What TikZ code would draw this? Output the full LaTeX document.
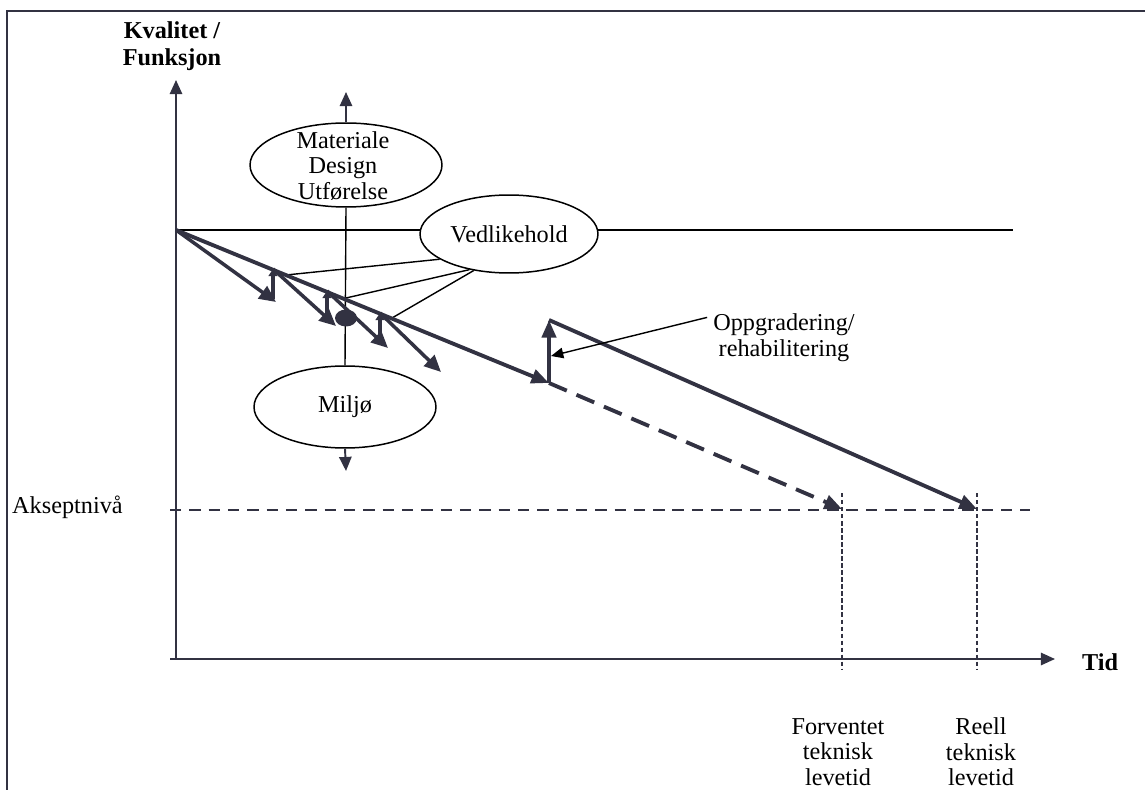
\documentclass[tikz,border=0pt]{standalone}
\usepackage{fontspec}
\setmainfont{Liberation Serif}
\usetikzlibrary{arrows.meta,shapes.geometric}
\definecolor{ink}{RGB}{50,50,66}

\begin{document}
\begin{tikzpicture}[x=0.02cm, y=-0.02cm,
  font=\fontsize{13.8}{14.6}\selectfont,
  bubble/.style={ellipse, draw=black, line width=0.85pt, fill=white, inner sep=0pt},
  axis/.style={line width=1.1pt, draw=ink, -{Triangle[length=8pt,width=7pt]}},
  fat/.style={line width=2.2pt, draw=ink, -{Triangle[length=10pt,width=8pt]}},
  wear/.style={line width=2pt, draw=ink, -{Triangle[length=9.5pt,width=8.5pt]}},
  fix/.style={line width=2pt, draw=ink, -{Triangle[length=4pt,width=5pt]}},
  thin/.style={line width=0.8pt, draw=black},
  level/.style={line width=1.4pt, draw=ink, dash pattern=on 6.5pt off 4.5pt}]
\useasboundingbox (0,0) rectangle (1145,790);

% frame
\draw[line width=1.2pt, draw=ink] (1145,11) -- (7,11) -- (7,790);

% axes
\coordinate (orig) at (176,659);
\coordinate (ytip) at (176,80);
\coordinate (xstart) at (170,659);
\coordinate (xtip) at (1055,659);
\draw[axis] (orig) -- (ytip);
\draw[axis] (xstart) -- (xtip);
\node[font=\fontsize{13.8}{15.4}\selectfont\bfseries, align=center] (ylab) at (172,46) {Kvalitet /\\Funksjon};
\node[font=\fontsize{13.8}{14.6}\selectfont\bfseries] (xlab) at (1100,662) {Tid};

% start level, behind the bubble
\coordinate (o) at (176,230);
\coordinate (topend) at (1013,230);
\draw[thin] (o) -- (topend);

% influence bubbles
\node[bubble, minimum width=3.84cm, minimum height=1.68cm] (matE) at (346,165) {};
\node[align=center] (mat) at (343,166) {Materiale\\Design\\Utførelse};
\node[bubble, minimum width=3.64cm, minimum height=1.64cm] (milE) at (345,407) {};
\node (mil) at (345,407) {Miljø};
\node[bubble, minimum width=3.56cm, minimum height=1.56cm] (ved) at (509,234) {Vedlikehold};
\coordinate (uptip) at (346,92);
\coordinate (downtip) at (346,471);
\draw[axis] (matE.north) -- (uptip);
\draw[thin] (matE.south) -- (milE.north);
\draw[axis] (milE.south) -- (downtip);

% wear and maintenance
\coordinate (d1) at (276,302);
\coordinate (b1) at (273,299);
\coordinate (u1) at (273,269);
\coordinate (d2) at (336,326);
\coordinate (b2) at (327,321);
\coordinate (u2) at (327,291);
\coordinate (d3) at (388,348);
\coordinate (b3) at (380,343);
\coordinate (u3) at (380,313);
\coordinate (d4) at (441,372);
\draw[wear] (o) -- (d1);
\draw[fix] (b1) -- (u1);
\draw[wear] (u1) -- (d2);
\draw[fix] (b2) -- (u2);
\draw[wear] (u2) -- (d3);
\draw[fix] (b3) -- (u3);
\draw[wear] (u3) -- (d4);
\node[ellipse, fill=ink, minimum width=0.44cm, minimum height=0.34cm, inner sep=0pt] (dot) at (346,318) {};

\coordinate (m1) at (286,275);
\coordinate (m2) at (346,298);
\coordinate (m3) at (392,318);
\draw[thin] (ved.200) -- (m1);
\draw[thin] (ved.222) -- (m2);
\draw[thin] (ved.226) -- (m3);

% main course
\coordinate (p) at (549,383);
\coordinate (q) at (549,320);
\coordinate (reell) at (977,509);
\coordinate (forv) at (842,509);
\draw[fat] (o) -- (p);
\draw[fat] (p) -- (q);
\draw[fat] (q) -- (reell);
\draw[fat, dash pattern=on 11pt off 6pt] (p) -- (forv);

\node[align=center] (opp) at (784,338) {Oppgradering/\\rehabilitering};
\coordinate (pm) at (551,356);
\draw[thin, -{Triangle[length=7pt,width=6pt]}] (opp.165) -- (pm);

% acceptance level
\coordinate (a1) at (170,510);
\coordinate (a2) at (1030,510);
\draw[level] (a1) -- (a2);
\node[anchor=west] (akspt) at (6,507) {Akseptnivå};

% life times
\coordinate (f1) at (842,493);
\coordinate (f2) at (842,670);
\coordinate (r1) at (977,493);
\coordinate (r2) at (977,670);
\draw[line width=0.8pt, draw=ink, dash pattern=on 2.5pt off 1.5pt] (f1) -- (f2);
\draw[line width=0.8pt, draw=ink, dash pattern=on 2.5pt off 1.5pt] (r1) -- (r2);
\node[align=center] (forvlab) at (838,752) {Forventet\\teknisk\\levetid};
\node[align=center] (reellab) at (981,752) {Reell\\teknisk\\levetid};

\end{tikzpicture}
\end{document}
